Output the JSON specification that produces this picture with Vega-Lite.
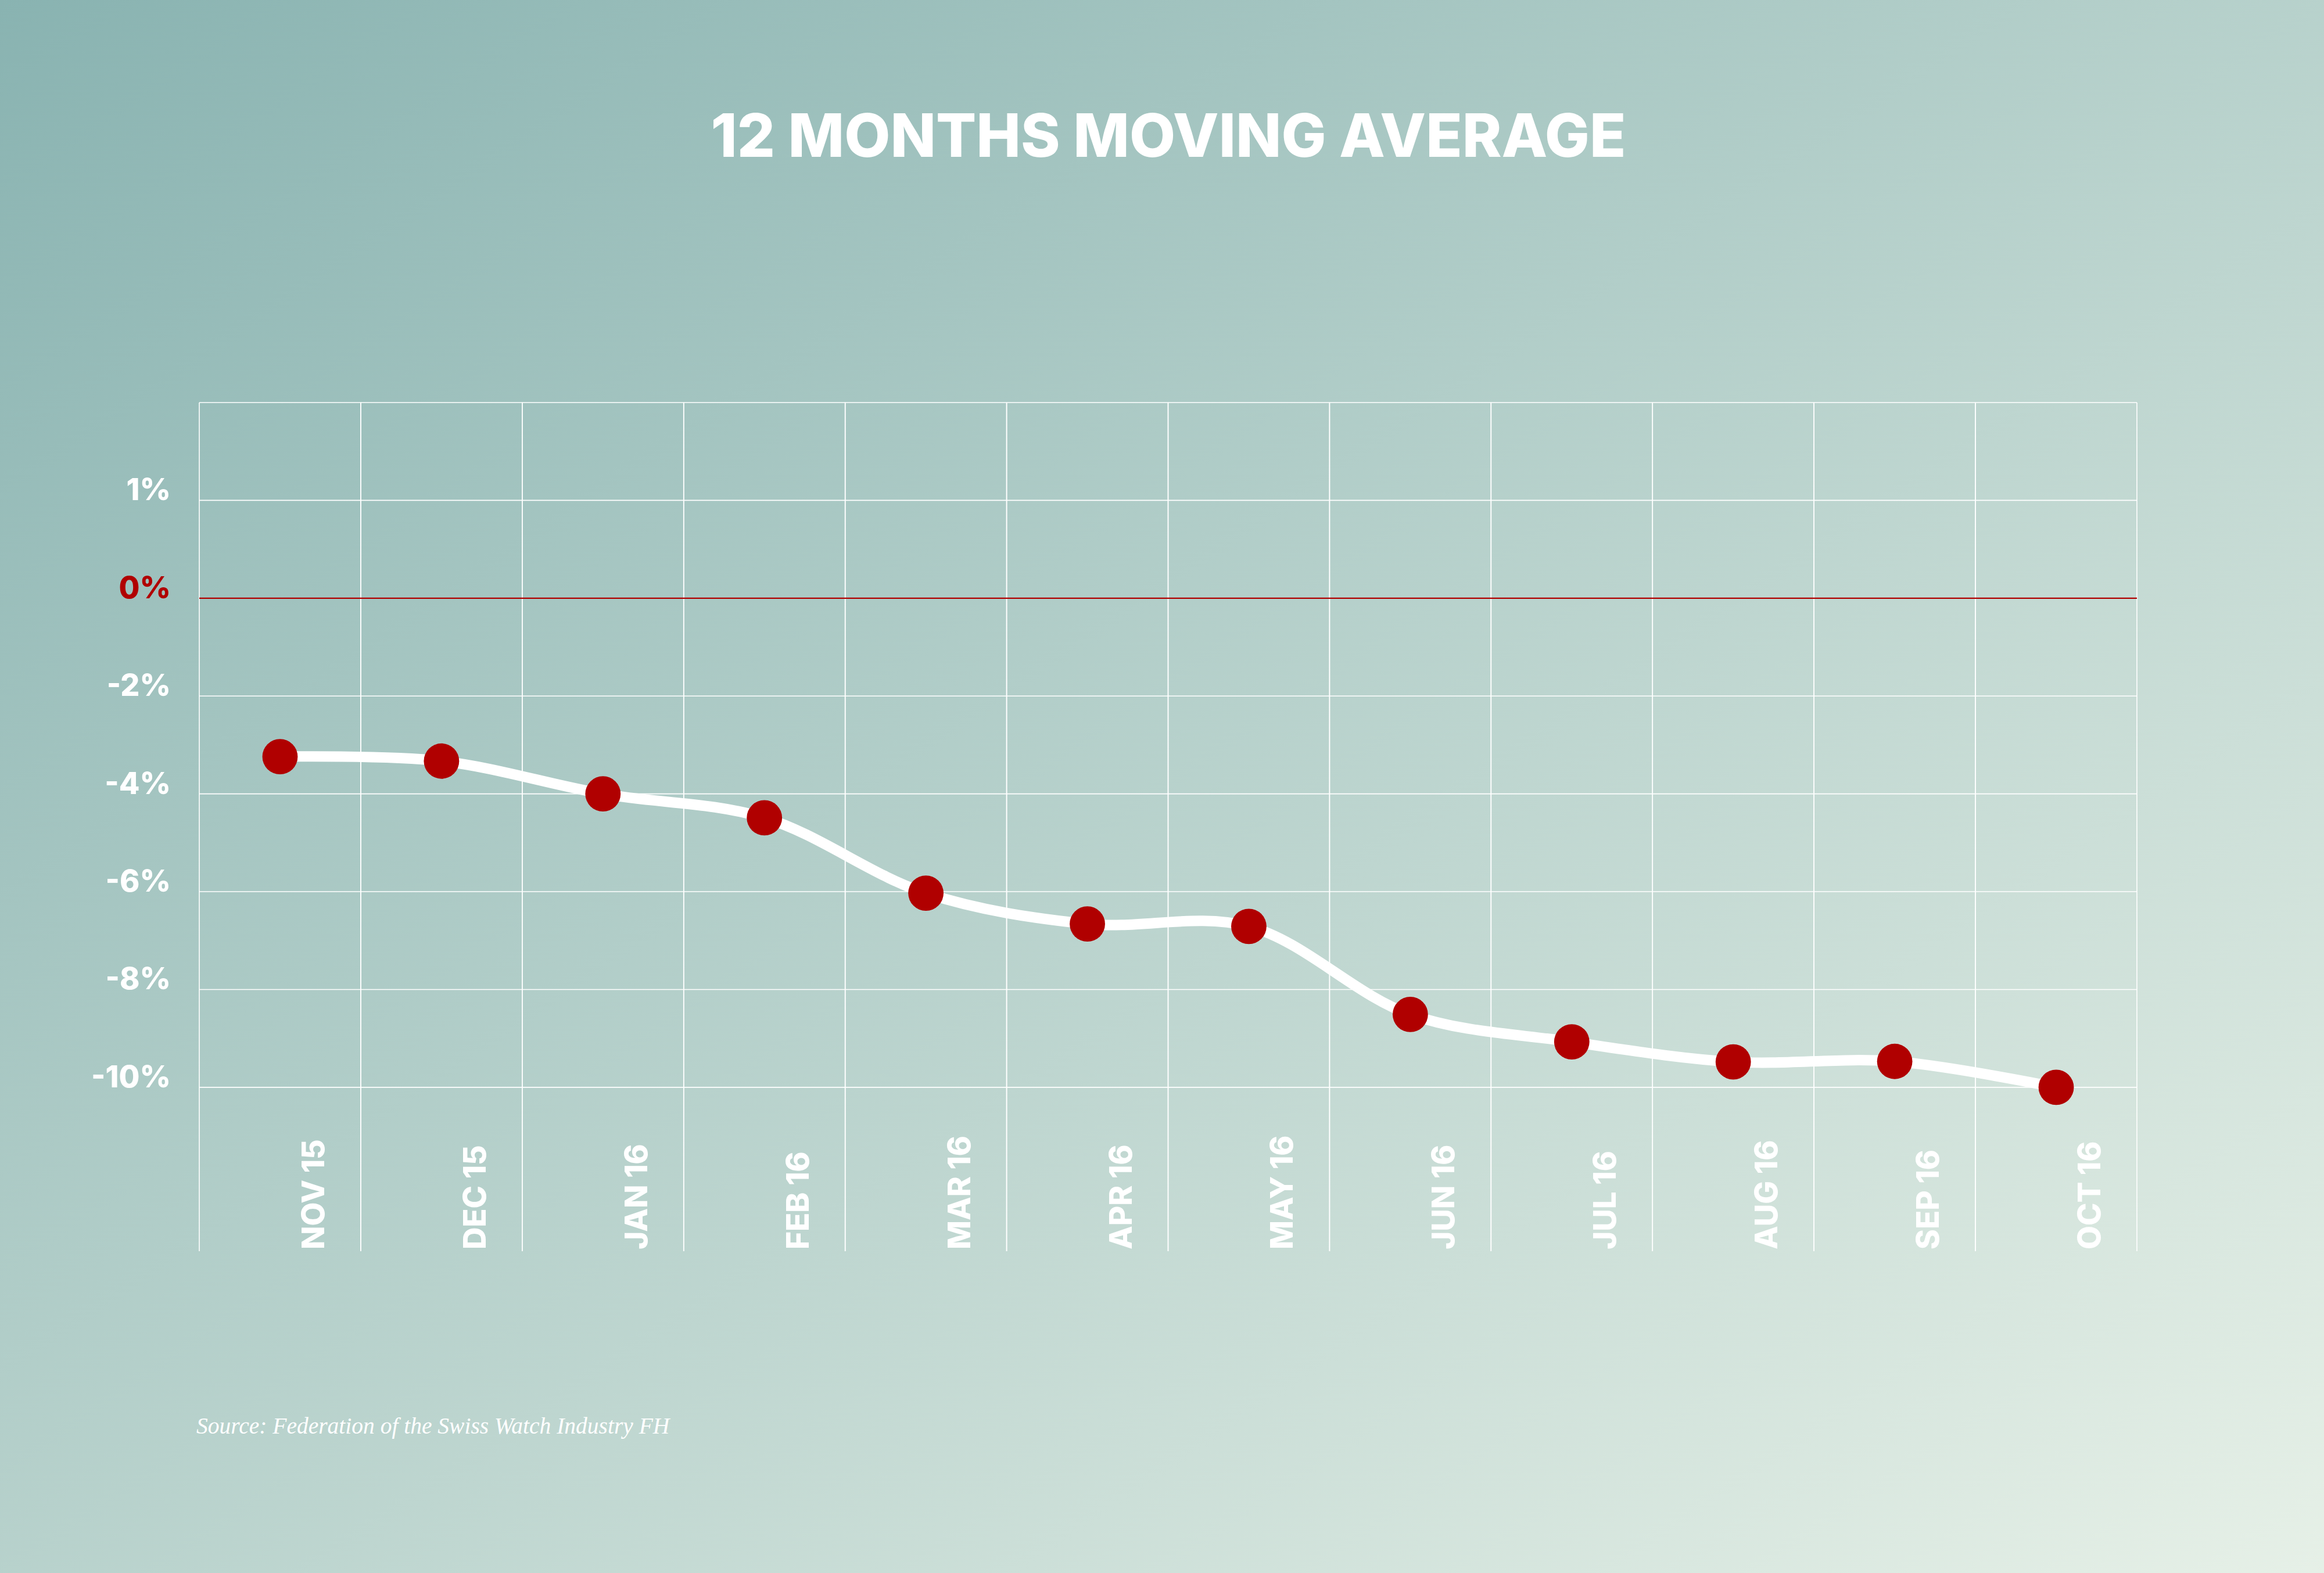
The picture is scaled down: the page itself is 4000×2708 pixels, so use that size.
{
  "$schema": "https://vega.github.io/schema/vega-lite/v6.json",
  "width": 4000,
  "height": 2708,
  "autosize": {"type": "none"},
  "padding": 0,
  "title": {
    "text": "12 MONTHS MOVING AVERAGE",
    "anchor": "middle",
    "frame": "group",
    "orient": "top",
    "offset": -372,
    "baseline": "alphabetic",
    "dx": 11,
    "font": "Inter",
    "fontSize": 102.5,
    "fontWeight": 800,
    "color": "#ffffff"
  },
  "datasets": {
    "months": [
      {"month": "NOV 15", "change": -3.24},
      {"month": "DEC 15", "change": -3.33},
      {"month": "JAN 16", "change": -4.0},
      {"month": "FEB 16", "change": -4.49},
      {"month": "MAR 16", "change": -6.03},
      {"month": "APR 16", "change": -6.66},
      {"month": "MAY 16", "change": -6.71},
      {"month": "JUN 16", "change": -8.51},
      {"month": "JUL 16", "change": -9.07},
      {"month": "AUG 16", "change": -9.48},
      {"month": "SEP 16", "change": -9.47},
      {"month": "OCT 16", "change": -10.0}
    ],
    "ticks": [
      {"v": 4, "label": ""},
      {"v": 2, "label": "1%"},
      {"v": 0, "label": "0%"},
      {"v": -2, "label": "-2%"},
      {"v": -4, "label": "-4%"},
      {"v": -6, "label": "-6%"},
      {"v": -8, "label": "-8%"},
      {"v": -10, "label": "-10%"}
    ],
    "canvas": [{"source": "Source: Federation of the Swiss Watch Industry FH"}]
  },
  "data": {"name": "months"},
  "layer": [
    {
      "data": {"name": "canvas"},
      "mark": {
        "type": "rect",
        "color": {"gradient": "linear", "x1": 0, "y1": 0, "x2": 1, "y2": 1, "stops": [{"offset": 0, "color": "#89b3b1"}, {"offset": 1, "color": "#e6f0e7"}]}
      }
    },
    {
      "mark": {"type": "rule", "color": "#ffffff", "strokeWidth": 1.6},
      "encoding": {
        "x": {"field": "month", "type": "ordinal", "sort": null, "bandPosition": 0, "axis": null},
        "y": {"datum": 4, "type": "quantitative", "axis": null},
        "y2": {"datum": -13.35}
      }
    },
    {
      "mark": {"type": "rule", "color": "#ffffff", "strokeWidth": 1.6},
      "encoding": {
        "x": {"field": "month", "type": "ordinal", "sort": null, "bandPosition": 1, "axis": null},
        "y": {"datum": 4, "type": "quantitative", "axis": null},
        "y2": {"datum": -13.35}
      }
    },
    {
      "data": {"name": "ticks"},
      "mark": {"type": "rule"},
      "encoding": {
        "y": {"field": "v", "type": "quantitative", "axis": null},
        "x": {"datum": "NOV 15", "type": "ordinal", "bandPosition": 0, "axis": null},
        "x2": {"datum": "OCT 16", "bandPosition": 1},
        "color": {"condition": {"test": "datum.v === 0", "value": "#b00000"}, "value": "#ffffff"},
        "strokeWidth": {"condition": {"test": "datum.v === 0", "value": 2.4}, "value": 1.6}
      }
    },
    {
      "data": {"name": "ticks"},
      "mark": {"type": "text", "align": "right", "baseline": "alphabetic", "dx": -49, "font": "Inter", "fontSize": 52, "fontWeight": 800},
      "encoding": {
        "y": {"field": "v", "type": "quantitative", "axis": null},
        "x": {"datum": "NOV 15", "type": "ordinal", "bandPosition": 0, "axis": null},
        "text": {"field": "label"},
        "color": {"condition": {"test": "datum.v === 0", "value": "#b00000"}, "value": "#ffffff"}
      }
    },
    {
      "mark": {"type": "text", "angle": 270, "align": "left", "baseline": "middle", "dx": 3, "dy": 60, "font": "Inter", "fontSize": 53, "fontWeight": 800, "color": "#ffffff"},
      "encoding": {
        "x": {"field": "month", "type": "ordinal", "sort": null, "axis": null},
        "y": {"datum": -13.35, "type": "quantitative", "axis": null},
        "text": {"field": "month"}
      }
    },
    {
      "data": {"name": "canvas"},
      "mark": {"type": "text", "align": "left", "baseline": "alphabetic", "dx": -5, "font": "Liberation Serif", "fontStyle": "italic", "fontSize": 39.5, "color": "#ffffff"},
      "encoding": {
        "x": {"datum": "NOV 15", "type": "ordinal", "bandPosition": 0, "axis": null},
        "y": {"datum": -17.08, "type": "quantitative", "axis": null},
        "text": {"field": "source"}
      }
    },
    {
      "mark": {"type": "line", "color": "#ffffff", "strokeWidth": 18, "interpolate": "catmull-rom"},
      "encoding": {
        "x": {
          "field": "month",
          "type": "ordinal",
          "sort": null,
          "scale": {"type": "band", "range": [343, 3678], "paddingInner": 0, "paddingOuter": 0},
          "axis": null
        },
        "y": {
          "field": "change",
          "type": "quantitative",
          "scale": {"domain": [-13.35, 4], "range": [2154, 693], "nice": false, "zero": false},
          "axis": null
        }
      }
    },
    {
      "mark": {"type": "circle", "color": "#b00000", "size": 3700, "opacity": 1},
      "encoding": {
        "x": {"field": "month", "type": "ordinal", "sort": null, "axis": null},
        "y": {"field": "change", "type": "quantitative", "axis": null}
      }
    }
  ],
  "config": {
    "view": {"stroke": null}
  }
}
